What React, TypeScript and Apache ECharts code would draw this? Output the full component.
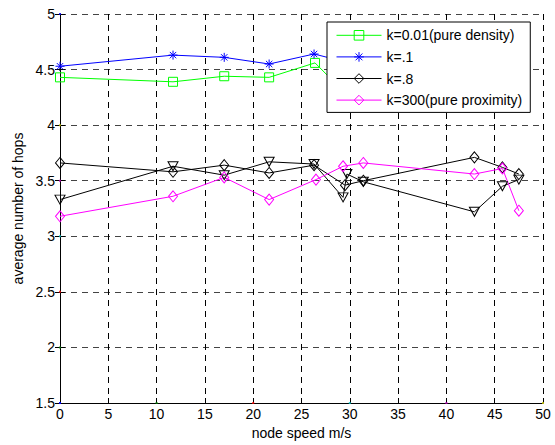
import React, { useEffect, useRef } from "react";
import * as echarts from "echarts";

// ---- data ----
const densityX = [0, 11.7, 17.0, 21.65, 26.4, 29.5, 31.4, 42.9, 45.8, 47.5];
const densityY = [4.43, 4.39, 4.44, 4.43, 4.56, 4.29, 4.4, 4.45, 4.42, 4.48];

const k01X = [0, 11.7, 17.0, 21.65, 26.3, 29.5, 31.4, 42.9, 45.8, 47.5];
const k01Y = [4.53, 4.63, 4.61, 4.55, 4.64, 4.57, 4.58, 4.62, 4.57, 4.6];

const k08X = [0, 11.7, 17.0, 21.65, 26.3, 29.5, 31.4, 42.9, 45.8, 47.5];
const k08Y = [3.66, 3.58, 3.64, 3.57, 3.64, 3.46, 3.5, 3.71, 3.62, 3.56];

const triX = [0, 11.7, 17.0, 21.65, 26.3, 29.3, 29.7, 31.4, 42.9, 45.8, 47.5];
const triY = [3.33, 3.63, 3.55, 3.67, 3.65, 3.35, 3.56, 3.49, 3.22, 3.45, 3.51];

const proxX = [0, 11.7, 17.0, 21.65, 26.5, 29.3, 31.4, 42.9, 45.8, 47.5];
const proxY = [3.18, 3.36, 3.53, 3.33, 3.51, 3.63, 3.66, 3.56, 3.61, 3.23];

const legendNames = ["k=0.01(pure density)", "k=.1", "k=.8", "k=300(pure proximity)"];

// little coloured marks sitting on the axes
const dotXs = [0, 10, 20, 30, 40, 50];
const dotXColors = ["#0000ff", "#008000", "#ff0000", "#00bfbf", "#bf00bf", "#bfbf00"];
const dotYs = [1.5, 2, 2.5, 3, 3.5, 4, 4.5, 5];
const dotYColors = ["#0000ff", "#008000", "#ff0000", "#00bfbf", "#bf00bf", "#bfbf00", "#000000", "#0000ff"];

const xMin = 0;
const xMax = 50;
const xStep = 5;
const yMin = 1.5;
const yMax = 5;
const yStep = 0.5;

const FONT = "'Liberation Sans', Arial, Helvetica, sans-serif";
const STAR = "path://M5,0L5,10M0,5L10,5M1.46,1.46L8.54,8.54M1.46,8.54L8.54,1.46";

function zip(xs: number[], ys: number[]) {
  return xs.map((x, i) => [x, ys[i]]);
}

function lineSeries(name: string, xs: number[], ys: number[], color: string, symbol: string, size: any, rotate = 0) {
  return {
    name,
    type: "line",
    data: zip(xs, ys),
    symbol,
    symbolSize: size,
    symbolRotate: rotate,
    showSymbol: true,
    lineStyle: { color, width: 1 },
    itemStyle: { color: "none", borderColor: color, borderWidth: 1 },
    emphasis: { disabled: true },
    z: 3,
  };
}

export default function App() {
  const ref = useRef<HTMLDivElement>(null);

  useEffect(() => {
    const chart = echarts.init(ref.current!, null, { renderer: "svg" });

    const dots = [
      ...dotXs.map((x, i) => ({ value: [x, yMin], itemStyle: { color: dotXColors[i] } })),
      ...dotYs.map((y, i) => ({ value: [xMin, y], itemStyle: { color: dotYColors[i] } })),
    ];

    const option: any = {
      animation: false,
      backgroundColor: "#ffffff",
      textStyle: { fontFamily: FONT },
      grid: { left: 60, right: 12, top: 14, bottom: 42 },
      legend: {
        data: legendNames,
        orient: "vertical",
        left: 327,
        top: 22,
        itemWidth: 45,
        itemHeight: 12,
        itemGap: 7,
        padding: [6, 8, 5, 9],
        backgroundColor: "#ffffff",
        borderColor: "#000000",
        borderWidth: 1,
        borderRadius: 0,
        selectedMode: false,
        itemStyle: { borderWidth: 1 },
        lineStyle: { width: 1 },
        textStyle: { fontSize: 14, color: "#000", fontFamily: FONT, lineHeight: 14, padding: [0, 0, 0, 0] },
        z: 10,
      },
      xAxis: [
        {
          type: "value",
          min: xMin,
          max: xMax,
          interval: xStep,
          name: "node speed m/s",
          nameLocation: "middle",
          nameGap: 23,
          nameTextStyle: { fontSize: 14, color: "#000", fontFamily: FONT },
          axisLine: { show: true, onZero: false, lineStyle: { color: "#000", width: 1 } },
          axisTick: { show: true, inside: true, length: 5, lineStyle: { color: "#000" } },
          axisLabel: { fontSize: 14, color: "#000", margin: 4, fontFamily: FONT },
          splitLine: { show: true, lineStyle: { color: "#000", width: 1, type: [6, 5] } },
        },
        {
          type: "value",
          position: "top",
          min: xMin,
          max: xMax,
          interval: xStep,
          axisLine: { show: false },
          axisTick: { show: true, inside: true, length: 5, lineStyle: { color: "#000" } },
          axisLabel: { show: false },
          splitLine: { show: false },
        },
      ],
      yAxis: [
        {
          type: "value",
          min: yMin,
          max: yMax,
          interval: yStep,
          name: "average number of hops",
          nameLocation: "middle",
          nameGap: 35,
          nameTextStyle: { fontSize: 14, color: "#000", fontFamily: FONT },
          axisLine: { show: true, onZero: false, lineStyle: { color: "#000", width: 1 } },
          axisTick: { show: true, inside: true, length: 5, lineStyle: { color: "#000" } },
          axisLabel: { fontSize: 14, color: "#000", margin: 5, fontFamily: FONT },
          splitLine: { show: true, lineStyle: { color: "#444", width: 1, type: [6, 5] } },
        },
        {
          type: "value",
          position: "right",
          min: yMin,
          max: yMax,
          interval: yStep,
          axisLine: { show: false },
          axisTick: { show: true, inside: true, length: 5, lineStyle: { color: "#000" } },
          axisLabel: { show: false },
          splitLine: { show: false },
        },
      ],
      series: [
        lineSeries(legendNames[0], densityX, densityY, "#00ff00", "rect", 9),
        lineSeries(legendNames[1], k01X, k01Y, "#0000ff", STAR, 9),
        lineSeries(legendNames[2], k08X, k08Y, "#000000", "diamond", [9, 11]),
        lineSeries("k=.8 (b)", triX, triY, "#000000", "triangle", [10, 9], 180),
        lineSeries(legendNames[3], proxX, proxY, "#ff00ff", "diamond", [9, 11]),
        {
          name: "axis marks",
          type: "scatter",
          data: dots,
          symbol: "rect",
          symbolSize: 2,
          clip: false,
          silent: true,
          z: 6,
        },
      ],
    };

    chart.setOption(option);
    return () => chart.dispose();
  }, []);

  return <div ref={ref} style={{ position: "fixed", left: 0, top: 0, width: 555, height: 445 }} />;
}
